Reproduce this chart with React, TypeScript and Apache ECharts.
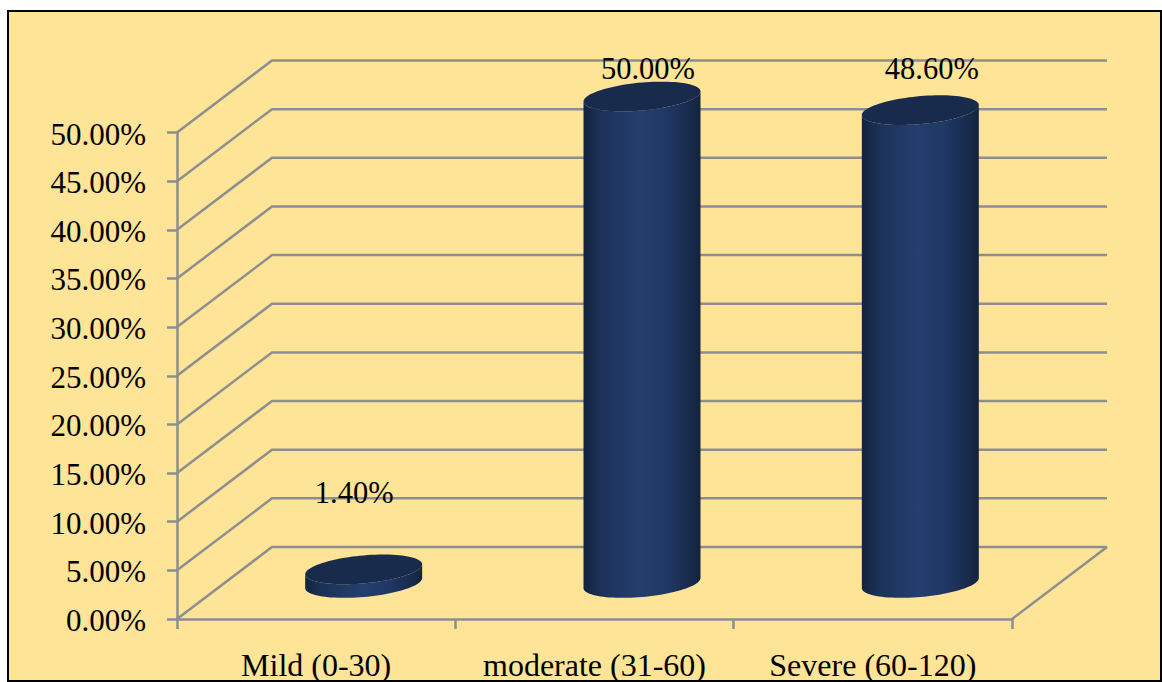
import React, { useEffect, useRef } from "react";
import * as echarts from "echarts";

// Pain score groups and their share of patients, in percent
const categories = ["Mild (0-30)", "moderate (31-60)", "Severe (60-120)"];
const shares = [1.4, 50.0, 48.6];
const valueTicks = [0, 5, 10, 15, 20, 25, 30, 35, 40, 45, 50];

// Offset of each value label from the centre of its cylinder's cap, in px
const labelShiftX = [-9.5, 6, 11.5];
const labelShiftY = [-76, -28, -41.5];

const FONT = '"Liberation Serif", "Times New Roman", serif';
const AXIS_GREY = "#8c8e90";
const RULE_WIDTH = 2.5;
const DEPTH_X = 95;
const DEPTH_Y = 72;
const RADIUS_X = 58.5;
const RADIUS_Y = 14;
const TILT = 5;

// Outline of a tilted ellipse between two angles, as a list of points
function arc(cx: number, cy: number, from: number, to: number, steps = 48) {
  const pts: number[][] = [];
  for (let i = 0; i <= steps; i++) {
    const t = from + ((to - from) * i) / steps;
    pts.push([
      cx + RADIUS_X * Math.cos(t),
      cy + RADIUS_Y * Math.sin(t) - TILT * Math.cos(t),
    ]);
  }
  return pts;
}

export default function App() {
  const ref = useRef<HTMLDivElement>(null);

  useEffect(() => {
    const chart = echarts.init(ref.current!, undefined, { renderer: "svg" });
    const sideFill = new echarts.graphic.LinearGradient(0, 0, 1, 0, [
      { offset: 0, color: "#14233e" },
      { offset: 0.14, color: "#1b3158" },
      { offset: 0.48, color: "#243f6e" },
      { offset: 0.72, color: "#1f3764" },
      { offset: 0.92, color: "#182a4b" },
      { offset: 1, color: "#14233c" },
    ]);

    chart.setOption({
      animation: false,
      grid: { left: 177, top: 132.5, width: 835, height: 486.5 },
      xAxis: {
        type: "category",
        data: categories,
        axisLine: { lineStyle: { color: AXIS_GREY, width: RULE_WIDTH } },
        axisTick: { show: true, length: 10, lineStyle: { color: AXIS_GREY, width: RULE_WIDTH } },
        axisLabel: { color: "#000", fontFamily: FONT, fontSize: 32, margin: 30, interval: 0 },
      },
      yAxis: {
        type: "value",
        min: 0,
        max: 50,
        interval: 5,
        splitLine: { show: false },
        axisLine: { show: true, lineStyle: { color: AXIS_GREY, width: RULE_WIDTH } },
        axisTick: { show: true, length: 10, lineStyle: { color: AXIS_GREY, width: RULE_WIDTH } },
        axisLabel: {
          margin: 31,
          formatter: (v: number) => `{tick|${v.toFixed(2)}%}`,
          rich: {
            tick: { color: "#000", fontFamily: FONT, fontSize: 31, padding: [3, 0, 0, 0] },
          },
        },
      },
      series: [
        {
          // Side wall and floor rules, running back from the value axis
          type: "custom",
          z: 1,
          silent: true,
          data: valueTicks,
          encode: { y: 0 },
          renderItem: (params: any, api: any) => {
            const sys = params.coordSys;
            const value = api.value(0);
            const y = api.coord([0, value])[1];
            const line = { stroke: AXIS_GREY, lineWidth: RULE_WIDTH, fill: "none" };
            const backLeft = sys.x + DEPTH_X;
            const backRight = sys.x + sys.width + DEPTH_X;
            const children: any[] = [
              {
                type: "polyline",
                shape: { points: [[sys.x, y], [backLeft, y - DEPTH_Y], [backRight, y - DEPTH_Y]] },
                style: line,
              },
            ];
            if (value === 0) {
              children.push({
                type: "line",
                shape: { x1: sys.x + sys.width, y1: y, x2: backRight, y2: y - DEPTH_Y },
                style: line,
              });
            }
            return { type: "group", children };
          },
        },
        {
          // Cylinders standing midway between the front edge and the back wall
          type: "custom",
          z: 2,
          silent: true,
          data: shares.map((v, i) => [i, v]),
          encode: { x: 0, y: 1 },
          renderItem: (params: any, api: any) => {
            const idx = params.dataIndex;
            const base = api.coord([api.value(0), 0]);
            const top = api.coord([api.value(0), api.value(1)]);
            const cx = base[0] + DEPTH_X / 2;
            const baseY = base[1] - DEPTH_Y / 2;
            const topY = top[1] - DEPTH_Y / 2;
            const body = [
              ...arc(cx, baseY, Math.PI, 0),
              ...arc(cx, topY, 0, Math.PI),
            ];
            return {
              type: "group",
              children: [
                { type: "polygon", shape: { points: body }, style: { fill: sideFill } },
                {
                  type: "polygon",
                  shape: { points: arc(cx, topY, 0, Math.PI * 2, 96) },
                  style: { fill: "#192b4d" },
                },
                {
                  type: "text",
                  x: cx + labelShiftX[idx],
                  y: topY + labelShiftY[idx],
                  style: {
                    text: `${api.value(1).toFixed(2)}%`,
                    fontFamily: FONT,
                    fontSize: 30.5,
                    fill: "#000",
                    align: "center",
                    verticalAlign: "middle",
                  },
                },
              ],
            };
          },
        },
      ],
    });

    return () => chart.dispose();
  }, []);

  return (
    <div style={{ position: "absolute", left: 0, top: 0, width: 1162, height: 682, background: "#fff", overflow: "hidden" }}>
      <div
        style={{
          position: "absolute",
          left: 7,
          top: 9.5,
          right: 0,
          bottom: 0,
          boxSizing: "border-box",
          background: "#fee496",
          border: "2.5px solid #000",
        }}
      />
      <div ref={ref} style={{ position: "absolute", left: 0, top: 0, width: 1162, height: 682 }} />
    </div>
  );
}
